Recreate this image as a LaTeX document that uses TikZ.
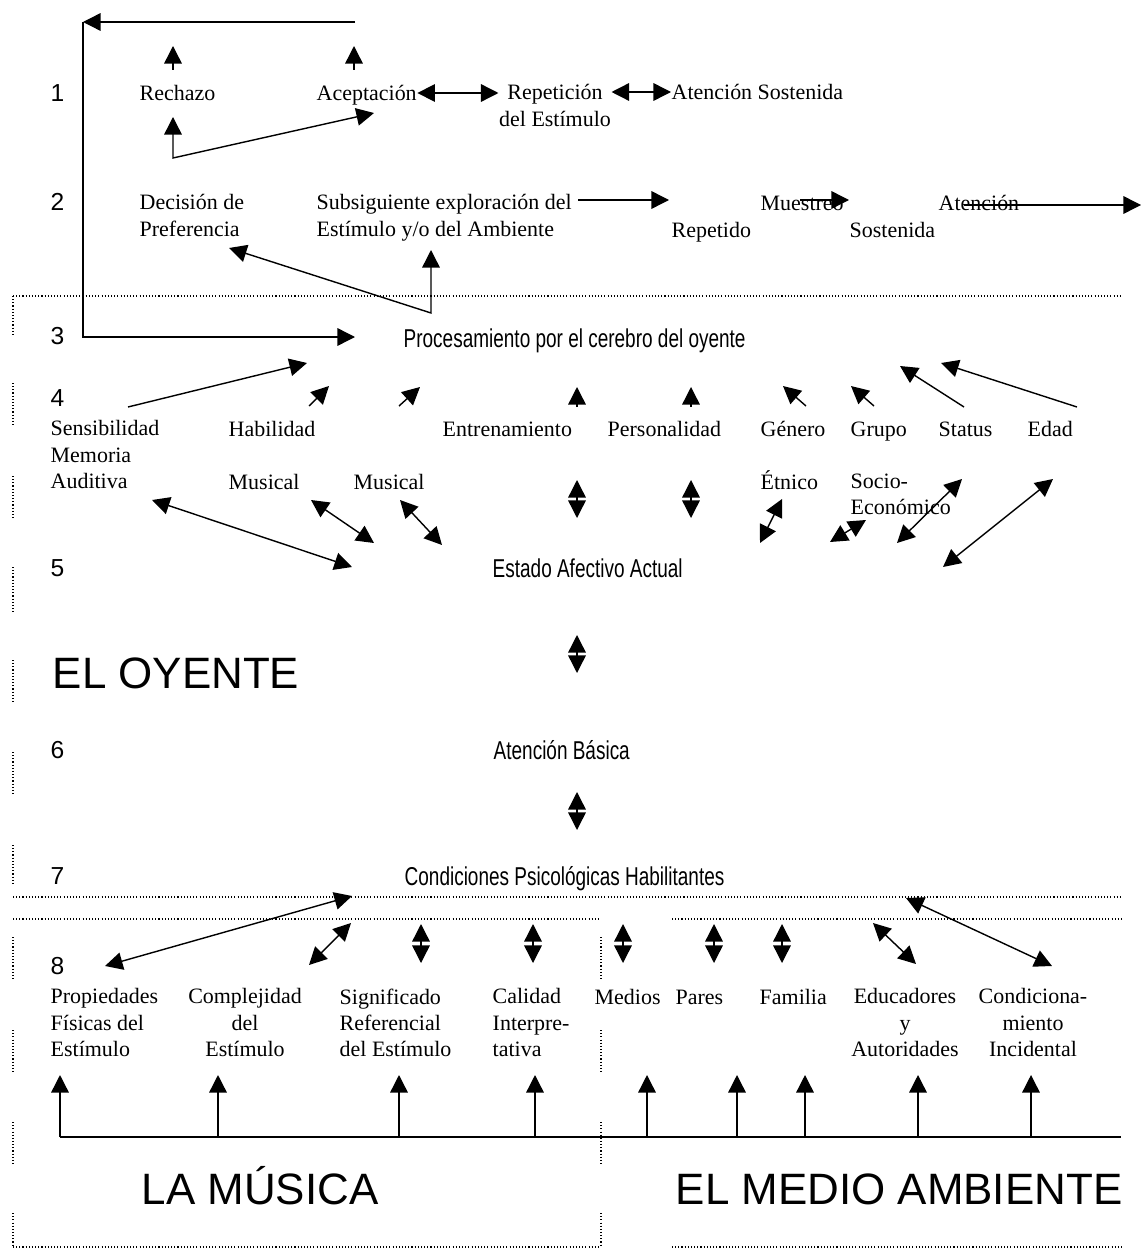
\documentclass[tikz,border=0pt]{standalone}
\usepackage{fontspec}
\setmainfont{Liberation Serif}
\newfontfamily\sansfam{Liberation Sans}
\newfontfamily\narrowfam[FakeStretch=0.735]{Liberation Sans}
\usetikzlibrary{arrows.meta}

\newcommand{\rowfont}{\fontsize{12.5}{15}\selectfont}
\newcommand{\digitfont}{\sansfam\fontsize{14}{16}\selectfont}
\newcommand{\stagefont}{\narrowfam\fontsize{14.7}{17}\selectfont}
\newcommand{\regionfont}{\sansfam\fontsize{25}{28}\selectfont}

\begin{document}
\begin{tikzpicture}[x=0.02cm, y=-0.02cm, >={Triangle[length=10pt,width=10pt]}, line width=0.8pt,
    lbl/.style={inner sep=0pt, anchor=west, font=\rowfont, text height=8.3pt, text depth=0pt},
    blk/.style={inner sep=0pt, anchor=north west, align=left, font=\rowfont},
    num/.style={inner sep=0pt, anchor=west, font=\digitfont, text height=10pt, text depth=0pt},
    stage/.style={inner sep=0pt, anchor=west, font=\stagefont, text height=10.5pt, text depth=0pt},
    region/.style={inner sep=0pt, anchor=west, font=\regionfont, text height=17.9pt, text depth=0pt},
    sep/.style={line width=0.6pt, dash pattern=on 0.6pt off 1.2pt}]
    \fill[white] (0,0) rectangle (1141,1250);

    % dotted frame
    \draw[sep] (13,296) -- (1121,296);
    \draw[sep] (13,897) -- (1122,897);
    \draw[sep] (13,919) -- (601,919);
    \draw[sep] (672,919) -- (1122,919);
    \draw[sep] (13,1247) -- (601,1247);
    \draw[sep] (672,1247) -- (1122,1247);
    \foreach \a/\b in {296/335, 383/427, 476/519, 567/612, 660/703, 752/795, 845/885, 937/980, 1030/1073, 1122/1165, 1213/1247} {%
        \draw[sep] (13,\a) -- (13,\b);
    }
    \foreach \a/\b in {937/980, 1030/1073, 1122/1165, 1213/1247} {%
        \draw[sep] (601,\a) -- (601,\b);
    }

    % row numbers
    \foreach \n/\y in {1/93, 2/202, 3/336, 4/398, 5/568, 6/750, 7/876, 8/966} {%
        \node[num] (r\n) at (50,\y) {\n};
    }

    % rows 1 and 2
    \node[lbl] (rech) at (139,93) {Rechazo};
    \node[lbl] (acep) at (316,93) {Aceptación};
    \node[blk, anchor=north, align=center] (repet) at (555,84) {Repetición\\del Estímulo};
    \node[lbl] (sost) at (671,92) {Atención Sostenida};
    \node[blk] (decis) at (139,194) {Decisión de\\Preferencia};
    \node[blk] (subsig) at (316,194) {Subsiguiente exploración del\\Estímulo y/o del Ambiente};
    \node[lbl] (muest) at (760,203) {Muestreo};
    \node[lbl] (repetido) at (671,230) {Repetido};
    \node[lbl] (sostenida) at (849,230) {Sostenida};
    \node[lbl] (atenc) at (938,203) {Atención};

    % the listener
    \node[stage] (proc) at (403,338) {Procesamiento por el cerebro del oyente};
    \node[blk] (sens) at (50,420) {Sensibilidad\\Memoria\\Auditiva};
    \node[lbl] (habil) at (228,429) {Habilidad};
    \node[lbl] (musA) at (228,482) {Musical};
    \node[lbl] (musB) at (353,482) {Musical};
    \node[lbl] (entr) at (442,429) {Entrenamiento};
    \node[lbl] (pers) at (607,429) {Personalidad};
    \node[lbl] (gen) at (760,429) {Género};
    \node[lbl] (etn) at (760,482) {Étnico};
    \node[lbl] (grupo) at (850,429) {Grupo};
    \node[blk] (socio) at (850,473) {Socio-\\Económico};
    \node[lbl] (status) at (938,429) {Status};
    \node[lbl] (edad) at (1027,429) {Edad};
    \node[stage] (estado) at (492,568) {Estado Afectivo Actual};
    \node[region] (oyente) at (52,673) {EL OYENTE};
    \node[stage] (basica) at (493,750) {Atención Básica};
    \node[stage] (cond) at (404,876) {Condiciones Psicológicas Habilitantes};

    % music and environment
    \node[blk] (prop) at (50,988) {Propiedades\\Físicas del\\Estímulo};
    \node[blk, anchor=north, align=center] (compl) at (245,988) {Complejidad\\del\\Estímulo};
    \node[blk] (signif) at (339,988) {Significado\\Referencial\\del Estímulo};
    \node[blk] (calid) at (492,988) {Calidad\\Interpre-\\tativa};
    \node[lbl] (medios) at (594,997) {Medios};
    \node[lbl] (pares) at (675,997) {Pares};
    \node[lbl] (famil) at (759,997) {Familia};
    \node[blk, anchor=north, align=center] (educ) at (905,988) {Educadores\\y\\Autoridades};
    \node[blk, anchor=north, align=center] (incid) at (1033,988) {Condiciona-\\miento\\Incidental};
    \node[region] (musica) at (141,1189) {LA MÚSICA};
    \node[region] (medio) at (675,1189) {EL MEDIO AMBIENTE};

    % loop back to the brain
    \coordinate (topR) at (355,22);
    \coordinate (topL) at (83,22);
    \coordinate (procIn) at (355,337);
    \draw[->] (topR) -- (topL);
    \draw[->] (topL) |- (procIn);

    \draw[<->] (acep.east) -- (acep.east -| repet.west);
    \draw[<->] (sost.west -| repet.east) -- (sost.west);

    % single arrows
    \foreach \i/\ax/\ay/\bx/\by in {1/173/70/173/46, 2/354/70/354/46, 3/578/200/669/200, 4/800/200/849/200,
        5/964/205/1141/205, 6/128/407/307/363, 7/309/406/329/386, 8/399/406/420/387, 9/577/407/577/387,
        10/691/407/691/387, 11/806/406/783/386, 12/874/406/851/386, 13/964/407/900/366, 14/1077/407/941/363} {%
        \coordinate (s\i a) at (\ax,\ay);
        \coordinate (s\i b) at (\bx,\by);
        \draw[->] (s\i a) -- (s\i b);
    }

    % two-way arrows
    \foreach \i/\ax/\ay/\bx/\by in {1/152/500/352/567, 2/311/500/374/543, 3/400/500/442/545, 4/577/480/577/518,
        5/691/480/691/518, 6/782/499/760/543, 7/866/520/830/542, 8/962/479/897/543, 9/1053/479/943/567,
        10/577/635/577/673, 11/577/792/577/830, 12/352/896/105/966, 13/351/923/309/965, 14/421/924/421/963,
        15/533/924/533/963, 16/623/924/623/963, 17/714/924/714/963, 18/782/924/782/963, 19/873/923/916/964,
        20/906/898/1052/966} {%
        \coordinate (d\i a) at (\ax,\ay);
        \coordinate (d\i b) at (\bx,\by);
        \draw[<->] (d\i a) -- (d\i b);
    }

    % bent arrows
    \coordinate (rejDn) at (173,117);
    \coordinate (rejC) at (173,158);
    \coordinate (accDn) at (374,113);
    \draw[<->] (rejDn) -- (rejC) -- (accDn);
    \coordinate (prefIn) at (229,248);
    \coordinate (prefC) at (431,313);
    \coordinate (subIn) at (431,250);
    \draw[<->] (prefIn) -- (prefC) -- (subIn);

    % feed line
    \coordinate (busL) at (60,1137);
    \coordinate (busR) at (1121,1137);
    \draw (busL) -- (busR);
    \foreach \x [count=\i] in {60, 218, 399, 535, 647, 737, 805, 918, 1031} {%
        \coordinate (b\i) at (\x,1137);
        \draw[->] (b\i) -- ++(0,-62);
    }
\end{tikzpicture}
\end{document}
